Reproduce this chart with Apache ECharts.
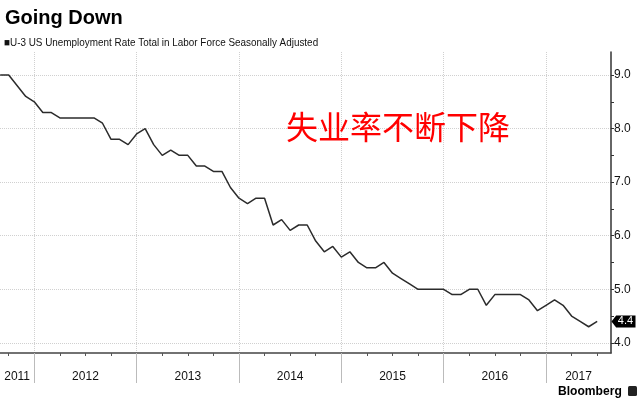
<!DOCTYPE html>
<html>
<head>
<meta charset="utf-8">
<script src="https://cdn.jsdelivr.net/npm/echarts@6/dist/echarts.min.js"></script>
<style>
html,body{margin:0;padding:0;background:#fff;}
#chart{width:640px;height:400px;}
</style>
</head>
<body>
<div id="chart"></div>
<script>
// ---- data (month-end U-3 unemployment rate, %) ----
const startMonth = '2011-08';
const rates2011 = [9.0, 9.0, 8.8, 8.6, 8.5];                                   // Aug-Dec
const rates2012 = [8.3, 8.3, 8.2, 8.2, 8.2, 8.2, 8.2, 8.1, 7.8, 7.8, 7.7, 7.9];
const rates2013 = [8.0, 7.7, 7.5, 7.6, 7.5, 7.5, 7.3, 7.3, 7.2, 7.2, 6.9, 6.7];
const rates2014 = [6.6, 6.7, 6.7, 6.2, 6.3, 6.1, 6.2, 6.2, 5.9, 5.7, 5.8, 5.6];
const rates2015 = [5.7, 5.5, 5.4, 5.4, 5.5, 5.3, 5.2, 5.1, 5.0, 5.0, 5.0, 5.0];
const rates2016 = [4.9, 4.9, 5.0, 5.0, 4.7, 4.9, 4.9, 4.9, 4.9, 4.8, 4.6, 4.7];
const rates2017 = [4.8, 4.7, 4.5, 4.4, 4.3, 4.4];                              // Jan-Jun
const yearLabels = ['2011', '2012', '2013', '2014', '2015', '2016', '2017'];
const yTickLabels = [4, 5, 6, 7, 8, 9];

const titleText = 'Going Down';
const legendText = 'U-3 US Unemployment Rate Total in Labor Force Seasonally Adjusted';
const noteText = '失业率不断下降';
const brandText = 'Bloomberg';

// ---- build series: x = months since Jan 1 2012 (value plotted at month end) ----
const rates = [].concat(rates2011, rates2012, rates2013, rates2014, rates2015, rates2016, rates2017);
const sy = parseInt(startMonth.slice(0, 4)), sm = parseInt(startMonth.slice(5, 7));
const baseYear = 2012;
const seriesData = rates.map((v, i) => {
  const monthEnd = (sy - baseYear) * 12 + sm + i;
  return [monthEnd, v];
});
const lastPoint = seriesData[seriesData.length - 1];

const xMin = -4.02, xMax = 67.62;
const yMin = 3.81, yMax = 9.43;

const yearBounds = [];
for (let y = 1; y < yearLabels.length; y++) yearBounds.push((y - 1) * 12);
const yearCenters = yearLabels.map((lab, i) => {
  const a = Math.max(xMin, (i - 1) * 12), b = Math.min(xMax, i * 12);
  return (a + b) / 2;
});
const quarterTicks = [];
for (let q = Math.ceil(xMin / 3) * 3; q <= xMax; q += 3) if (q % 12 !== 0) quarterTicks.push(q);
const yHalfTicks = [];
for (let v = 4.5; v < yMax; v += 1) yHalfTicks.push(v);

const chart = echarts.init(document.getElementById('chart'), null, {renderer: 'canvas'});
chart.setOption({
  animation: false,
  backgroundColor: '#fff',
  title: [
    {text: titleText, left: 0, top: 3,
     textStyle: {fontFamily: 'Liberation Sans', fontWeight: 'bold', fontSize: 20, color: '#000'}},
    {text: noteText, left: 281, top: 106,
     textStyle: {fontFamily: "'Noto Sans CJK SC', sans-serif", fontWeight: 'normal', fontSize: 32, color: '#ff0000'}}
  ],
  grid: {left: 0, right: 29, top: 52, bottom: 47, containLabel: false},
  xAxis: [
    {type: 'value', min: xMin, max: xMax, position: 'bottom',
     axisLine: {show: true, onZero: false, lineStyle: {color: '#444', width: 1.5}},
     axisTick: {show: true, customValues: yearBounds, length: 30, lineStyle: {color: '#bbb', width: 1}},
     axisLabel: {show: true, customValues: yearCenters, margin: 18,
       formatter: (v) => yearLabels[yearCenters.findIndex(c => Math.abs(c - v) < 1e-6)] || '',
       fontFamily: 'Liberation Sans', fontSize: 12, color: '#111'},
     splitLine: {show: true, customValues: yearBounds, lineStyle: {color: '#d0d0d0', type: 'dotted', width: 1}}},
    {type: 'value', min: xMin, max: xMax, position: 'bottom',
     axisLine: {show: false, onZero: false},
     axisTick: {show: true, customValues: quarterTicks, length: 3, lineStyle: {color: '#555', width: 1}},
     axisLabel: {show: false}, splitLine: {show: false}}
  ],
  yAxis: [
    {type: 'value', min: yMin, max: yMax, position: 'right',
     axisLine: {show: true, onZero: false, lineStyle: {color: '#333', width: 1.5}},
     axisTick: {show: true, customValues: yTickLabels, length: 3, lineStyle: {color: '#333', width: 1}},
     axisLabel: {show: true, customValues: yTickLabels, margin: 3,
       formatter: (v) => v.toFixed(1), fontFamily: 'Liberation Sans', fontSize: 12, color: '#111'},
     splitLine: {show: true, customValues: yTickLabels, lineStyle: {color: '#d0d0d0', type: 'dotted', width: 1}}},
    {type: 'value', min: yMin, max: yMax, position: 'right',
     axisLine: {show: false, onZero: false},
     axisTick: {show: true, customValues: yHalfTicks, length: 3, lineStyle: {color: '#333', width: 1}},
     axisLabel: {show: false}, splitLine: {show: false}}
  ],
  series: [{
    type: 'line', xAxisIndex: 0, yAxisIndex: 0, data: seriesData,
    showSymbol: false, clip: false,
    lineStyle: {color: '#2b2b2b', width: 1.5},
    markPoint: {
      symbol: 'path://M0,6 L5,0 L26,0 L26,12 L5,12 Z',
      symbolSize: [24, 12], symbolKeepAspect: false, symbolOffset: [12.5, 0],
      itemStyle: {color: '#000'},
      label: {show: true, position: 'inside', offset: [2, 0], color: '#fff',
        fontFamily: 'Liberation Sans', fontSize: 11, formatter: (p) => p.value.toFixed(1)},
      data: [{coord: [xMax, lastPoint[1]], value: lastPoint[1]}]
    }
  }],
  graphic: [
    {type: 'text', left: 4, top: 37, scaleX: 0.9,
     style: {text: '\u25A0' + legendText, fontFamily: 'Liberation Sans', fontSize: 11, fill: '#111'}},
    {type: 'text', left: 558, top: 385, scaleX: 0.93,
     style: {text: brandText, fontFamily: 'Liberation Sans', fontWeight: 'bold', fontSize: 13, fill: '#000'}},
    {type: 'rect', left: 628, top: 386, shape: {width: 9, height: 10, r: 1.5}, style: {fill: '#222'}}
  ]
});
</script>
</body>
</html>
